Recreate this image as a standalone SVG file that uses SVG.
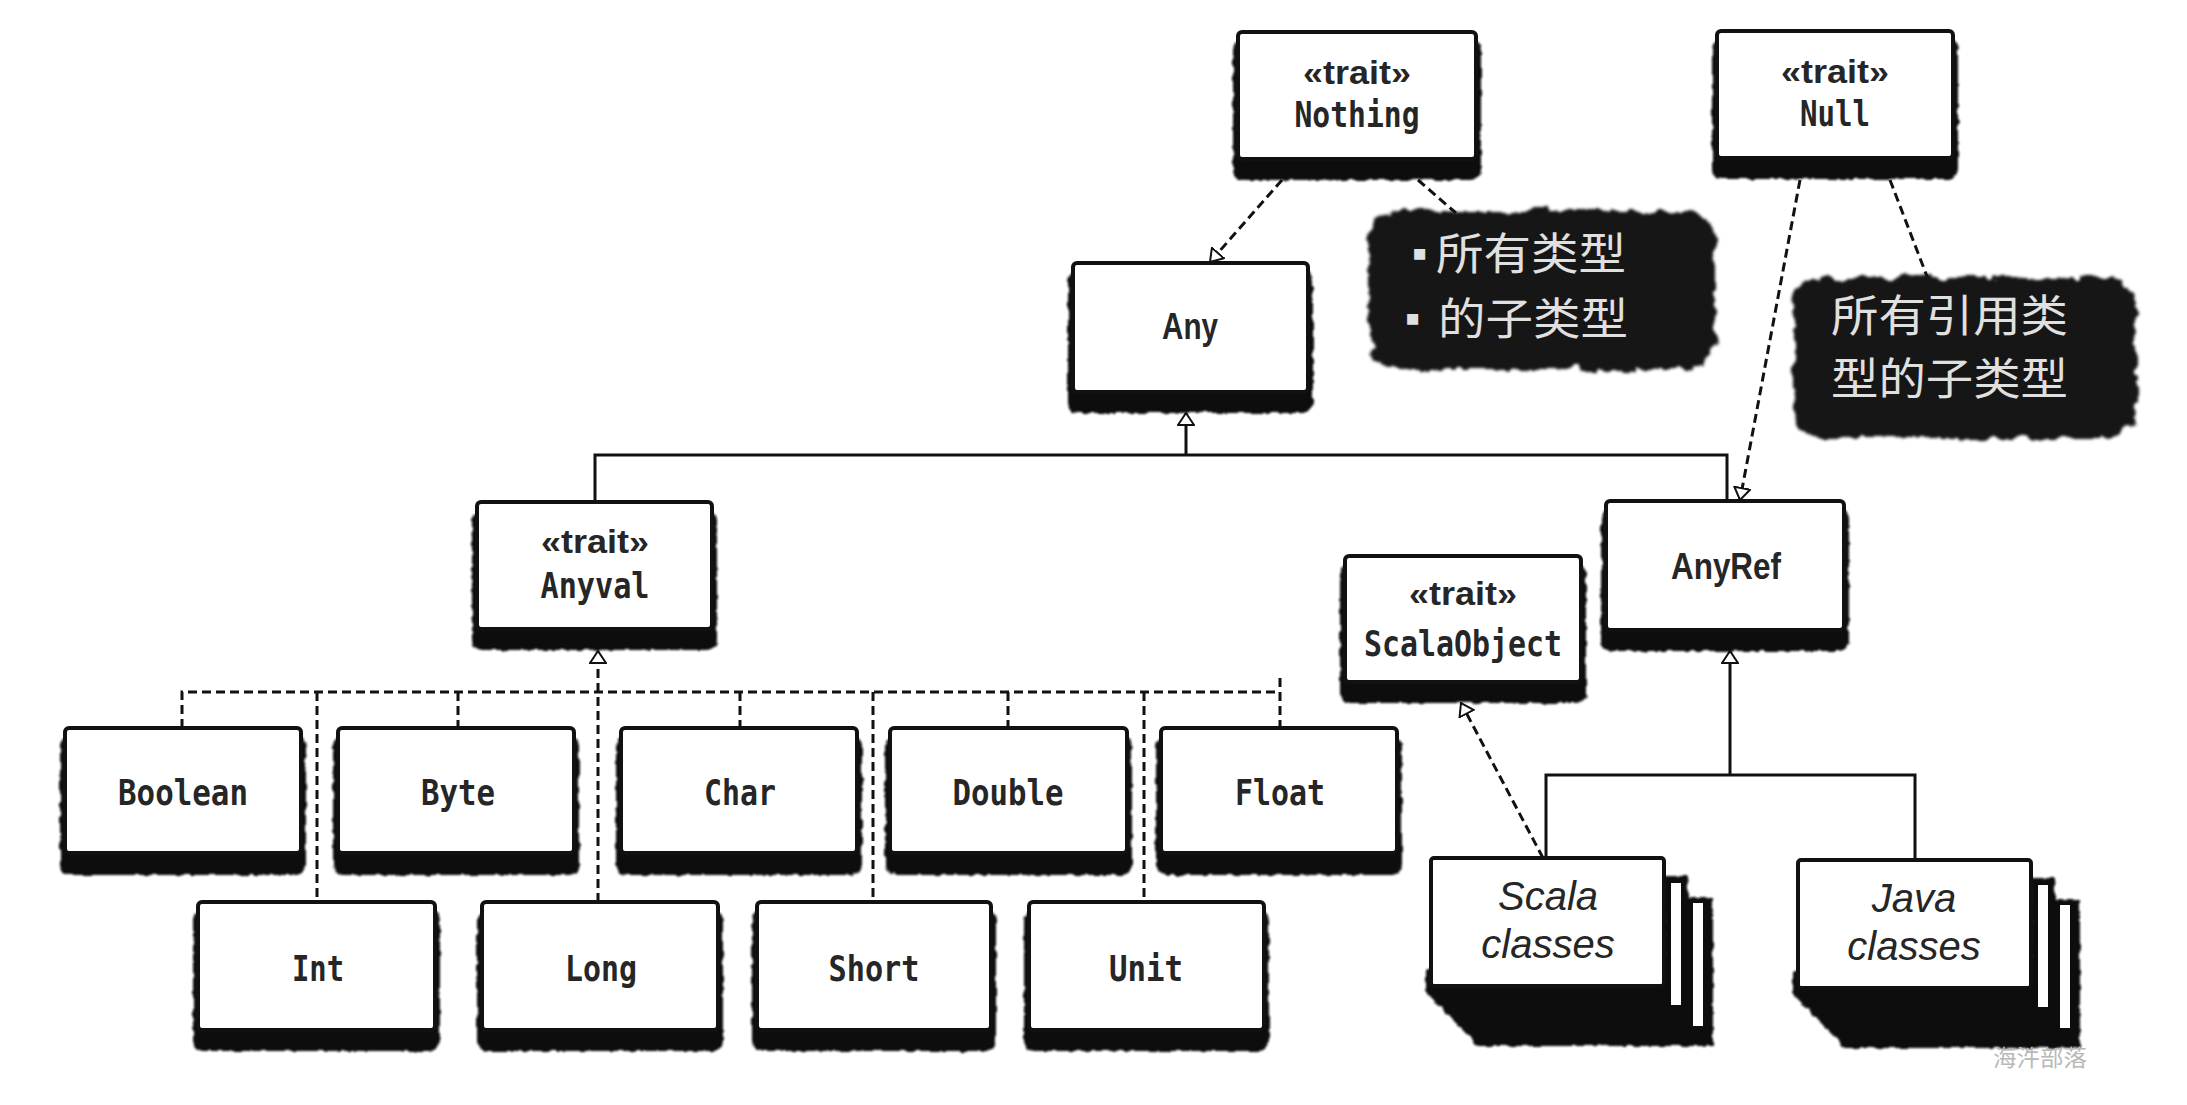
<svg xmlns="http://www.w3.org/2000/svg" xmlns:xlink="http://www.w3.org/1999/xlink" width="2187" height="1105" viewBox="0 0 2187 1105">
<defs>
<filter id="rough" x="-5%" y="-10%" width="110%" height="125%">
<feTurbulence type="fractalNoise" baseFrequency="0.12" numOctaves="2" seed="3" result="n"/>
<feDisplacementMap in="SourceGraphic" in2="n" scale="5" xChannelSelector="R" yChannelSelector="G" result="d"/>
<feGaussianBlur in="d" stdDeviation="1"/>
</filter>
<filter id="blob" x="-10%" y="-10%" width="120%" height="120%">
<feTurbulence type="fractalNoise" baseFrequency="0.06" numOctaves="3" seed="7" result="n"/>
<feDisplacementMap in="SourceGraphic" in2="n" scale="14" xChannelSelector="R" yChannelSelector="G" result="d"/>
<feGaussianBlur in="d" stdDeviation="1.5"/>
</filter>
<marker id="tri" viewBox="0 0 14 18" markerWidth="14" markerHeight="18" refX="13" refY="9" orient="auto" markerUnits="userSpaceOnUse">
<path d="M1,1 L13,9 L1,17 Z" fill="#fff" stroke="#111" stroke-width="2" stroke-dasharray="none"/>
</marker>
<g id="stack">
<polygon points="-5,112 -5,134 47,188 282,188 282,40 257,40 257,18 233,18 233,112" fill="#111" filter="url(#rough)"/>
<rect x="240" y="25" width="10" height="122" fill="#fff"/>
<rect x="262" y="45" width="10" height="123" fill="#fff"/>
<rect x="0" y="0" width="233" height="128" rx="3" fill="#fff" stroke="#111" stroke-width="4"/>
</g>
</defs>
<style>
.sh{fill:#111;filter:url(#rough)}
.bx{fill:#fff;stroke:#111;stroke-width:4}
.mono{font-family:"DejaVu Sans Mono","Liberation Mono",monospace;font-size:36px;font-weight:bold;fill:#262626;text-anchor:middle}
.sans{font-family:"Liberation Sans","DejaVu Sans",sans-serif;font-size:36px;font-weight:bold;fill:#262626;text-anchor:middle}
.st{font-family:"Liberation Sans","DejaVu Sans",sans-serif;font-size:33px;font-weight:bold;fill:#262626;text-anchor:middle}
.it{font-family:"Liberation Sans",Arial,sans-serif;font-style:italic;font-size:40px;fill:#262626;text-anchor:middle}
.cjk{font-family:"Liberation Sans","Noto Sans CJK SC",sans-serif;font-size:44px;fill:#e0e0e0}
.callout{fill:#161616;filter:url(#blob)}
.ln{fill:none;stroke:#111;stroke-width:3}
.dl{fill:none;stroke:#111;stroke-width:3;stroke-dasharray:9 5}
.wm{font-family:"Noto Sans CJK SC",sans-serif;font-size:23px;fill:#b8b8b8}
</style>
<rect width="2187" height="1105" fill="#fff"/>

<g id="connectors">
<path class="ln" d="M1186,455 V413" marker-end="url(#tri)"/>
<path class="ln" d="M595,502 V455 H1727 V501"/>
<path class="dl" d="M598,902 V651" marker-end="url(#tri)"/>
<path class="dl" d="M182,728 V692 H1280"/>
<path class="dl" d="M1280,678 V728"/>
<path class="dl" d="M458,692 V728 M740,692 V728 M1008,692 V728"/>
<path class="dl" d="M317,692 V902 M873,692 V902 M1144,692 V902"/>
<path class="dl" d="M1282,180 L1210,262" marker-end="url(#tri)"/>
<path class="dl" d="M1800,180 L1740,500" marker-end="url(#tri)"/>
<path class="dl" d="M1418,180 L1456,213"/>
<path class="dl" d="M1890,180 L1928,279"/>
<path class="ln" d="M1730,775 V651" marker-end="url(#tri)"/>
<path class="ln" d="M1546,858 V775 H1915 V860"/>
<path class="dl" d="M1543,858 L1461,703" marker-end="url(#tri)"/>
</g>

<g id="nothing">
<rect class="sh" x="1233" y="40" width="248" height="140" rx="10"/>
<rect class="bx" x="1238" y="32" width="238" height="127" rx="4"/>
<text class="st" x="1357" y="84" textLength="108" lengthAdjust="spacingAndGlyphs">«trait»</text>
<text class="mono" x="1357" y="127" textLength="125" lengthAdjust="spacingAndGlyphs">Nothing</text>
</g>

<g id="null">
<rect class="sh" x="1712" y="39" width="246" height="140" rx="10"/>
<rect class="bx" x="1717" y="31" width="236" height="127" rx="4"/>
<text class="st" x="1835" y="83" textLength="108" lengthAdjust="spacingAndGlyphs">«trait»</text>
<text class="mono" x="1835" y="126" textLength="70" lengthAdjust="spacingAndGlyphs">Null</text>
</g>

<g id="note-nothing">
<rect class="callout" x="1369" y="211" width="346" height="158" rx="28"/>
<text class="cjk" x="1412" y="268" font-size="30">▪</text>
<text class="cjk" x="1436" y="270" textLength="190" lengthAdjust="spacingAndGlyphs">所有类型</text>
<text class="cjk" x="1405" y="333" font-size="30">▪</text>
<text class="cjk" x="1438" y="335" textLength="190" lengthAdjust="spacingAndGlyphs">的子类型</text>
</g>

<g id="note-null">
<rect class="callout" x="1794" y="278" width="342" height="160" rx="28"/>
<text class="cjk" x="1831" y="332" textLength="237" lengthAdjust="spacingAndGlyphs">所有引用类</text>
<text class="cjk" x="1831" y="395" textLength="237" lengthAdjust="spacingAndGlyphs">型的子类型</text>
</g>

<g id="any">
<rect class="sh" x="1068" y="271" width="245" height="142" rx="10"/>
<rect class="bx" x="1073" y="263" width="235" height="129" rx="4"/>
<text class="sans" x="1190" y="339" textLength="56" lengthAdjust="spacingAndGlyphs">Any</text>
</g>

<g id="anyval">
<rect class="sh" x="472" y="510" width="245" height="140" rx="10"/>
<rect class="bx" x="477" y="502" width="235" height="127" rx="4"/>
<text class="st" x="595" y="553" textLength="108" lengthAdjust="spacingAndGlyphs">«trait»</text>
<text class="mono" x="595" y="598" textLength="109" lengthAdjust="spacingAndGlyphs">Anyval</text>
</g>

<g id="anyref">
<rect class="sh" x="1601" y="509" width="248" height="142" rx="10"/>
<rect class="bx" x="1606" y="501" width="238" height="129" rx="4"/>
<text class="sans" x="1726" y="579" textLength="110" lengthAdjust="spacingAndGlyphs">AnyRef</text>
</g>

<g id="scalaobject">
<rect class="sh" x="1340" y="564" width="246" height="139" rx="10"/>
<rect class="bx" x="1345" y="556" width="236" height="126" rx="4"/>
<text class="st" x="1463" y="605" textLength="108" lengthAdjust="spacingAndGlyphs">«trait»</text>
<text class="mono" x="1463" y="656" textLength="198" lengthAdjust="spacingAndGlyphs">ScalaObject</text>
</g>

<g id="boolean">
<rect class="sh" x="60" y="736" width="246" height="139" rx="10"/>
<rect class="bx" x="65" y="728" width="236" height="125" rx="4"/>
<text class="mono" x="183" y="805" textLength="130" lengthAdjust="spacingAndGlyphs">Boolean</text>
</g>
<g id="byte">
<rect class="sh" x="333" y="736" width="246" height="139" rx="10"/>
<rect class="bx" x="338" y="728" width="236" height="125" rx="4"/>
<text class="mono" x="458" y="805" textLength="74" lengthAdjust="spacingAndGlyphs">Byte</text>
</g>
<g id="char">
<rect class="sh" x="616" y="736" width="246" height="139" rx="10"/>
<rect class="bx" x="621" y="728" width="236" height="125" rx="4"/>
<text class="mono" x="740" y="805" textLength="72" lengthAdjust="spacingAndGlyphs">Char</text>
</g>
<g id="double">
<rect class="sh" x="885" y="736" width="247" height="139" rx="10"/>
<rect class="bx" x="890" y="728" width="237" height="125" rx="4"/>
<text class="mono" x="1008" y="805" textLength="111" lengthAdjust="spacingAndGlyphs">Double</text>
</g>
<g id="float">
<rect class="sh" x="1156" y="736" width="246" height="139" rx="10"/>
<rect class="bx" x="1161" y="728" width="236" height="125" rx="4"/>
<text class="mono" x="1280" y="805" textLength="90" lengthAdjust="spacingAndGlyphs">Float</text>
</g>

<g id="int">
<rect class="sh" x="193" y="910" width="247" height="141" rx="10"/>
<rect class="bx" x="198" y="902" width="237" height="128" rx="4"/>
<text class="mono" x="318" y="981" textLength="52" lengthAdjust="spacingAndGlyphs">Int</text>
</g>
<g id="long">
<rect class="sh" x="477" y="910" width="246" height="141" rx="10"/>
<rect class="bx" x="482" y="902" width="236" height="128" rx="4"/>
<text class="mono" x="601" y="981" textLength="72" lengthAdjust="spacingAndGlyphs">Long</text>
</g>
<g id="short">
<rect class="sh" x="752" y="910" width="244" height="141" rx="10"/>
<rect class="bx" x="757" y="902" width="234" height="128" rx="4"/>
<text class="mono" x="874" y="981" textLength="91" lengthAdjust="spacingAndGlyphs">Short</text>
</g>
<g id="unit">
<rect class="sh" x="1024" y="910" width="245" height="141" rx="10"/>
<rect class="bx" x="1029" y="902" width="235" height="128" rx="4"/>
<text class="mono" x="1146" y="981" textLength="74" lengthAdjust="spacingAndGlyphs">Unit</text>
</g>

<g id="scala-classes">
<use xlink:href="#stack" href="#stack" x="1431" y="858"/>
<text class="it" x="1548" y="910">Scala</text>
<text class="it" x="1548" y="958">classes</text>
</g>

<g id="java-classes">
<use xlink:href="#stack" href="#stack" x="1798" y="860"/>
<text class="it" x="1914" y="912">Java</text>
<text class="it" x="1914" y="960">classes</text>
</g>

<text class="wm" x="1993" y="1066" textLength="94" lengthAdjust="spacingAndGlyphs">海汼部落</text>
</svg>
